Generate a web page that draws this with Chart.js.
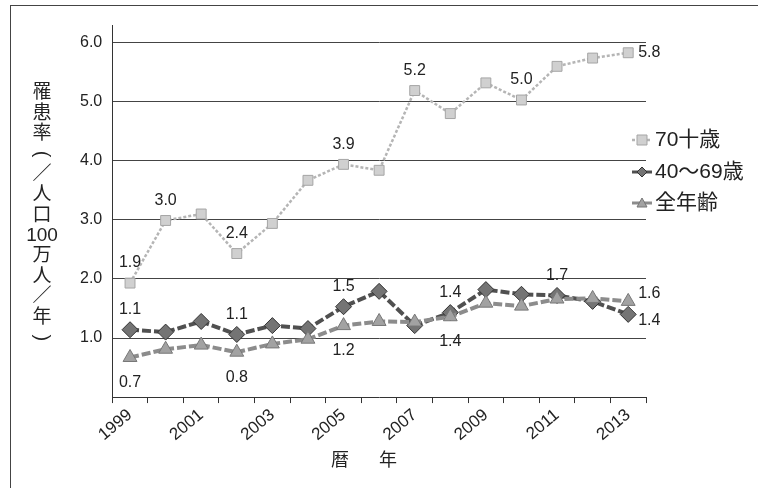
<!DOCTYPE html>
<html>
<head>
<meta charset="utf-8">
<script src="https://cdn.jsdelivr.net/npm/chart.js@4.4.1/dist/chart.umd.min.js"></script>
<style>
  html, body { margin: 0; background: #fff; }
  canvas { display: block; }
</style>
</head>
<body>
<canvas id="chart" width="758" height="488"></canvas>
<script>
// values
const years = ["1999", "2000", "2001", "2002", "2003", "2004", "2005", "2006",
  "2007", "2008", "2009", "2010", "2011", "2012", "2013"];
const over70 = [1.93, 2.99, 3.10, 2.43, 2.94, 3.67, 3.94, 3.84, 5.19, 4.80, 5.32, 5.03, 5.60, 5.74, 5.83];
const age40to69 = [1.14, 1.10, 1.28, 1.06, 1.21, 1.16, 1.53, 1.79, 1.21, 1.43, 1.82, 1.74, 1.72, 1.62, 1.40];
const allAges = [0.67, 0.81, 0.88, 0.76, 0.90, 0.98, 1.21, 1.28, 1.27, 1.36, 1.59, 1.54, 1.66, 1.67, 1.62];
const seriesNames = ["70十歳", "40～69歳", "全年齢"];
const yTicks = [1, 2, 3, 4, 5, 6];
// vertical title; parentheses are turned a quarter turn like in vertical writing
const yTitle = ["罹", "患", "率", "(", "／", "人", "口", "100", "万", "人", "／", "年", ")"];
const xTitle = ["暦", "年"];

// which points carry a value label: [index, where, extra dy]
const labelSpots = [
  [[0, "above", 0], [1, "above", 0], [3, "above", 0], [6, "above", 0], [8, "above", 0], [11, "above", 0], [14, "right", 0]],
  [[0, "above", 0], [3, "above", 0], [6, "above", 0], [9, "above", 0], [12, "above", 0], [14, "right", 6]],
  [[0, "below", 0], [3, "below", 0], [6, "below", 0], [9, "below", 0], [14, "right", -8]]
];

const FONT = "'Liberation Sans', 'Noto Sans CJK JP', sans-serif";
Chart.defaults.font.family = FONT;
Chart.defaults.color = "#222";

function marker(ctx, style, x, y, r, fill, stroke) {
  ctx.beginPath();
  if (style === "rect") {
    ctx.rect(x - r, y - r, r * 2, r * 2);
  } else if (style === "rectRot") {
    ctx.moveTo(x, y - r); ctx.lineTo(x + r, y); ctx.lineTo(x, y + r); ctx.lineTo(x - r, y);
    ctx.closePath();
  } else {
    ctx.moveTo(x, y - r); ctx.lineTo(x + r, y + r * 0.8); ctx.lineTo(x - r, y + r * 0.8);
    ctx.closePath();
  }
  ctx.fillStyle = fill; ctx.fill();
  ctx.strokeStyle = stroke; ctx.lineWidth = 1; ctx.stroke();
}

const decor = {
  id: "decor",
  beforeDraw(chart) {
    const ctx = chart.ctx;
    ctx.save();
    ctx.fillStyle = "#fff";
    ctx.fillRect(0, 0, chart.width, chart.height);
    ctx.strokeStyle = "#444";
    ctx.lineWidth = 1;
    ctx.strokeRect(10.5, 5.5, 900, 600);
    ctx.restore();
  },
  afterDatasetsDraw(chart) {
    const ctx = chart.ctx;
    ctx.save();
    ctx.font = "16px " + FONT;
    ctx.fillStyle = "#222";
    labelSpots.forEach((spots, di) => {
      const meta = chart.getDatasetMeta(di);
      const vals = chart.data.datasets[di].data;
      spots.forEach(([i, where, dy]) => {
        const el = meta.data[i];
        const txt = vals[i].toFixed(1);
        ctx.textBaseline = "middle";
        if (where === "right") {
          ctx.textAlign = "left";
          ctx.fillText(txt, el.x + 10, el.y + dy);
        } else if (where === "above") {
          ctx.textAlign = "center";
          ctx.fillText(txt, el.x, el.y - 20 + dy);
        } else {
          ctx.textAlign = "center";
          ctx.fillText(txt, el.x, el.y + 25 + dy);
        }
      });
    });
    ctx.restore();
  },
  afterDraw(chart) {
    const ctx = chart.ctx;
    const area = chart.chartArea;
    ctx.save();
    ctx.fillStyle = "#222";
    ctx.textAlign = "center";
    ctx.textBaseline = "middle";
    // vertical axis title, one glyph per row
    ctx.font = "19px " + FONT;
    yTitle.forEach((ch, i) => {
      const y = 93 + i * 20.4;
      if (ch === "(" || ch === ")") {
        ctx.save();
        ctx.translate(42, y);
        ctx.rotate(Math.PI / 2);
        ctx.font = "20px " + FONT;
        ctx.fillText(ch, 0, 0);
        ctx.restore();
      } else {
        ctx.fillText(ch, 42, y);
      }
    });
    // horizontal axis title, two widely spaced glyphs
    ctx.font = "18px " + FONT;
    ctx.fillText(xTitle[0], 340, 461);
    ctx.fillText(xTitle[1], 388, 461);
    // legend on the right
    const rows = [140, 172, 203];
    chart.data.datasets.forEach((ds, i) => {
      const cy = rows[i];
      const cx = area.right - 4;
      ctx.strokeStyle = ds.borderColor;
      ctx.lineWidth = Math.min(ds.borderWidth, 3);
      ctx.setLineDash(ds.borderDash);
      ctx.beginPath();
      ctx.moveTo(cx - 10, cy); ctx.lineTo(cx + 10, cy);
      ctx.stroke();
      ctx.setLineDash([]);
      marker(ctx, ds.pointStyle, cx, cy, 5, ds.pointBackgroundColor, ds.pointBorderColor);
      ctx.font = "21px " + FONT;
      ctx.fillStyle = "#222";
      ctx.textAlign = "left";
      ctx.fillText(ds.label, cx + 13, cy);
    });
    ctx.restore();
  }
};

new Chart(document.getElementById("chart"), {
  type: "line",
  data: {
    labels: years,
    datasets: [
      {
        label: seriesNames[0],
        data: over70,
        order: 2,
        borderColor: "#b5b5b5",
        borderWidth: 2.5,
        borderDash: [3, 2],
        pointStyle: "rect",
        pointRadius: 7,
        pointBackgroundColor: "#d0d0d0",
        pointBorderColor: "#a5a5a5",
        pointBorderWidth: 1,
        tension: 0
      },
      {
        label: seriesNames[1],
        data: age40to69,
        order: 1,
        borderColor: "#505050",
        borderWidth: 4,
        borderDash: [9, 3],
        pointStyle: "rectRot",
        pointRadius: 8,
        pointBackgroundColor: "#747474",
        pointBorderColor: "#333",
        pointBorderWidth: 1,
        tension: 0
      },
      {
        label: seriesNames[2],
        data: allAges,
        order: 0,
        borderColor: "#8c8c8c",
        borderWidth: 4,
        borderDash: [9, 3],
        pointStyle: "triangle",
        pointRadius: 8,
        pointBackgroundColor: "#a2a2a2",
        pointBorderColor: "#777",
        pointBorderWidth: 1,
        tension: 0
      }
    ]
  },
  options: {
    responsive: false,
    animation: false,
    devicePixelRatio: 1,
    layout: { padding: { left: 70, right: 112, top: 25, bottom: 41 } },
    plugins: { legend: { display: false }, tooltip: { enabled: false } },
    scales: {
      x: {
        offset: true,
        grid: { offset: true, drawOnChartArea: false, drawTicks: true, tickLength: 6, color: "#333" },
        border: { color: "#333", width: 1 },
        ticks: {
          autoSkip: false,
          minRotation: 40,
          maxRotation: 40,
          padding: 2,
          font: { size: 17 },
          callback: (v, i) => (i % 2 === 0 ? years[i] : "")
        }
      },
      y: {
        min: 0,
        max: 6.3,
        afterBuildTicks: (s) => { s.ticks = yTicks.map((v) => ({ value: v })); },
        grid: { color: "#444", drawTicks: false },
        border: { color: "#333" },
        ticks: { padding: 10, font: { size: 16 }, callback: (v) => Number(v).toFixed(1) }
      }
    }
  },
  plugins: [decor]
});
</script>
</body>
</html>
